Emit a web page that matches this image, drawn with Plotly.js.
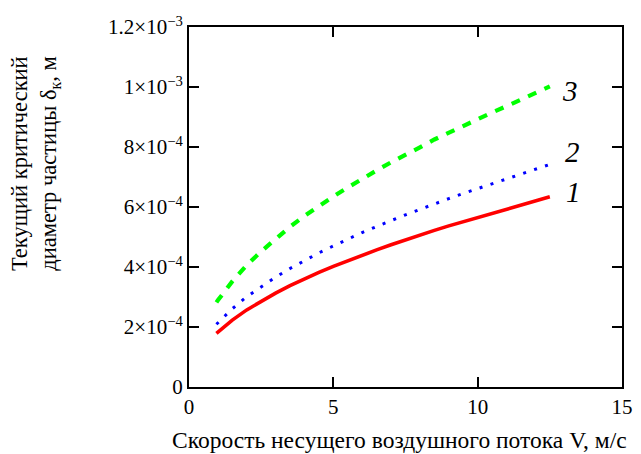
<!DOCTYPE html>
<html>
<head>
<meta charset="utf-8">
<script src="https://cdn.plot.ly/plotly-3.0.1.min.js"></script>
<style>html,body{margin:0;padding:0;background:#fff}#chart{width:641px;height:454px}</style>
</head>
<body>
<div id="chart"></div>
<script>
// Velocity V, m/s
const velocity = [0.95, 1, 1.5, 2, 2.5, 3, 3.5, 4, 4.5, 5, 5.5, 6, 6.5, 7, 7.5, 8, 8.5, 9, 9.5, 10, 10.5, 11, 11.5, 12, 12.5];
// Critical diameter, units of 1e-4 m
const curve1 = [1.79, 1.83, 2.23, 2.57, 2.86, 3.13, 3.38, 3.61, 3.82, 4.02, 4.21, 4.40, 4.57, 4.74, 4.91, 5.06, 5.22, 5.37, 5.51, 5.65, 5.79, 5.92, 6.06, 6.20, 6.34];
const curve2 = [2.09, 2.14, 2.61, 3.01, 3.35, 3.66, 3.95, 4.22, 4.47, 4.70, 4.93, 5.15, 5.35, 5.55, 5.74, 5.92, 6.11, 6.28, 6.45, 6.61, 6.77, 6.93, 7.09, 7.25, 7.42];
const curve3 = [2.82, 2.89, 3.52, 4.06, 4.52, 4.95, 5.34, 5.70, 6.04, 6.35, 6.65, 6.95, 7.22, 7.49, 7.76, 7.99, 8.25, 8.48, 8.71, 8.93, 9.15, 9.36, 9.59, 9.80, 10.02];
const yTickVals = [0, 2e-4, 4e-4, 6e-4, 8e-4, 1e-3, 1.2e-3];
const yMant = ["0", "2", "4", "6", "8", "1", "1.2"];
const yExp = ["", "−4", "−4", "−4", "−4", "−3", "−3"];
const xTickVals = [0, 5, 10, 15];
const curveLabels = ["1", "2", "3"];

const scale = v => v * 1e-4;
const font = "'Liberation Serif', 'Times New Roman', serif";
const yTickText = yMant.map((m, i) => yExp[i] ? m + "×10<sup>" + yExp[i] + "</sup>" : m);

const traces = [
  {x: velocity, y: curve1.map(scale), mode: "lines", line: {color: "#ff0000", width: 3.6}},
  {x: velocity, y: curve2.map(scale), mode: "lines", line: {color: "#0000ff", width: 3, dash: "3px,8.5px"}},
  {x: velocity, y: curve3.map(scale), mode: "lines", line: {color: "#00ff00", width: 4.2, dash: "9px,9px"}}
];

const axisCommon = {
  showgrid: false, zeroline: false, showline: true, linecolor: "#000", linewidth: 2,
  ticks: "inside", ticklen: 10, tickwidth: 2, tickcolor: "#000", mirror: "ticks",
  tickfont: {family: font, size: 21, color: "#000"}
};

const layout = {
  width: 641, height: 454,
  margin: {l: 189, r: 19, t: 27, b: 67},
  paper_bgcolor: "#fff", plot_bgcolor: "#fff",
  showlegend: false,
  font: {family: font, color: "#000"},
  xaxis: Object.assign({}, axisCommon, {range: [0, 15], tickmode: "array", tickvals: xTickVals, ticktext: xTickVals.map(String)}),
  yaxis: Object.assign({}, axisCommon, {range: [0, 1.2e-3], tickmode: "array", tickvals: yTickVals, ticktext: yTickText}),
  annotations: [
    {text: "Скорость несущего воздушного потока V, м/с", xref: "paper", yref: "paper", x: 0.487, y: -0.148,
     xanchor: "center", yanchor: "middle", showarrow: false, font: {family: font, size: 23.5, color: "#000"}},
    {text: "Текущий критический<br>диаметр частицы δ<sub>к</sub>, м", xref: "paper", yref: "paper", x: -0.3557, y: 0.622,
     xanchor: "center", yanchor: "middle", showarrow: false, textangle: -90, align: "right",
     font: {family: font, size: 22.5, color: "#000"}},
    {text: "<i>" + curveLabels[2] + "</i>", xref: "paper", yref: "paper", x: 0.903, y: 0.872, showarrow: false, font: {family: font, size: 29, color: "#000"}},
    {text: "<i>" + curveLabels[1] + "</i>", xref: "paper", yref: "paper", x: 0.907, y: 0.653, showarrow: false, font: {family: font, size: 29, color: "#000"}},
    {text: "<i>" + curveLabels[0] + "</i>", xref: "paper", yref: "paper", x: 0.910, y: 0.542, showarrow: false, font: {family: font, size: 29, color: "#000"}}
  ]
};

Plotly.newPlot("chart", traces, layout, {displayModeBar: false, staticPlot: true});
</script>
</body>
</html>
